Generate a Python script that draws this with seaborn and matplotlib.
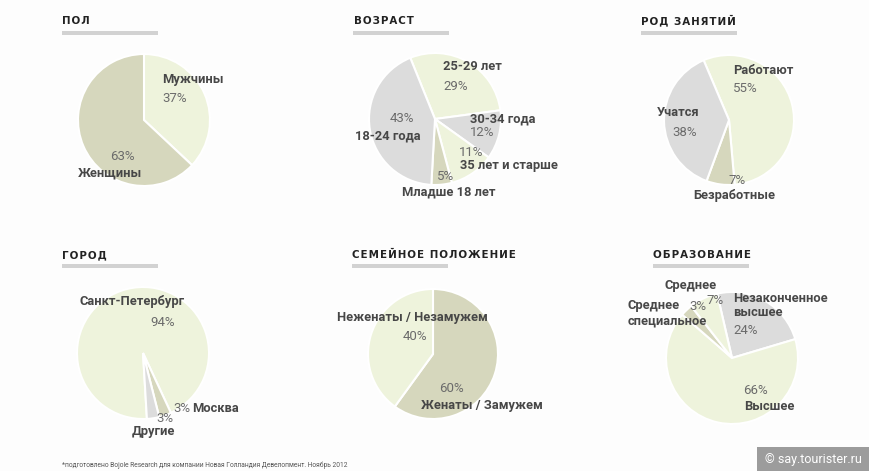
import numpy as np
import pandas as pd
import matplotlib.pyplot as plt
import seaborn as sns

# data
pol_labels = ['Мужчины', 'Женщины']
pol_values = [37, 63]

age_labels = ['25-29 лет', '30-34 года', '35 лет и старше', 'Младше 18 лет', '18-24 года']
age_values = [29, 12, 11, 5, 43]

occ_labels = ['Работают', 'Безработные', 'Учатся']
occ_values = [55, 7, 38]

city_labels = ['Санкт-Петербург', 'Москва', 'Другие']
city_values = [94, 3, 3]

fam_labels = ['Женаты / Замужем', 'Неженаты / Незамужем']
fam_values = [60, 40]

edu_labels = ['Незаконченное\nвысшее', 'Высшее', 'Среднее\nспециальное', 'Среднее']
edu_values = [24, 66, 3, 7]

titles = ['ПОЛ', 'ВОЗРАСТ', 'РОД ЗАНЯТИЙ', 'ГОРОД', 'СЕМЕЙНОЕ ПОЛОЖЕНИЕ', 'ОБРАЗОВАНИЕ']

sns.set_theme(style='white')
plt.rcParams['font.family'] = ['Roboto', 'DejaVu Sans']

GREEN = '#eef3dc'
GRAY = '#dcdcdc'
KHAKI = '#d6d7bd'
LAB = '#474747'
PCT = '#6b6b6b'

W, H = 870, 471
fig = plt.figure(figsize=(8.7, 4.71), dpi=100, facecolor='#fdfdfd')
ax = fig.add_axes([0, 0, 1, 1])
ax.set_facecolor('#fdfdfd')


def Y(y):
    return H - y


def pie(values, colors, cx, cy, r, start, explode=None):
    # start = clockwise degrees from 12 o'clock
    ax.pie(values, colors=colors, center=(cx, Y(cy)), radius=r,
           startangle=90 - start, counterclock=False, explode=explode,
           wedgeprops=dict(edgecolor='white', linewidth=1.5))


def lab(x, y, s, step=15):
    # one text per line so short lines keep tight boxes
    for i, line in enumerate(s.split('\n')):
        ax.text(x, Y(y + i * step), line, ha='left', va='center', fontsize=9.3,
                color=LAB, fontweight='bold')


def pct(x, y, v):
    ax.text(x, Y(y), f'{v}%', ha='left', va='center', fontsize=9.5,
            color=PCT)


# titles and bars
title_pos = [(62, 24), (354, 24), (641, 24), (62, 258), (352, 258), (653, 258)]
bar_pos = [(62, 33), (353, 33), (641, 33), (62, 266), (352, 266), (653, 266)]
for t, (tx, ty), (bx, by) in zip(titles, title_pos, bar_pos):
    ax.text(tx, Y(ty), '\u200a'.join(t), ha='left', va='baseline',
            fontsize=7.4, fontweight='bold', color='#222222',
            family=['DejaVu Sans'])
    ax.add_patch(plt.Rectangle((bx, Y(by) - 2), 96, 4, color='#d2d2d2', lw=0))

# ПОЛ
pie(pol_values, [GREEN, KHAKI], 144, 120, 66, 0)
lab(162, 79, pol_labels[0]); pct(162, 99, pol_values[0])
pct(110, 157, pol_values[1]); lab(78, 173, pol_labels[1])

# ВОЗРАСТ
pie(age_values, [GREEN, GRAY, GREEN, KHAKI, GRAY], 435, 119, 66, -22)
lab(443, 67, age_labels[0]); pct(443, 87, age_values[0])
lab(470, 119, age_labels[1]); pct(470, 133, age_values[1])
pct(459, 152, age_values[2]); lab(460, 165, age_labels[2])
pct(437, 177, age_values[3]); lab(402, 192, age_labels[3])
pct(390, 118, age_values[4]); lab(355, 136, age_labels[4])

# РОД ЗАНЯТИЙ
pie(occ_values, [GREEN, KHAKI, GRAY], 729, 120, 65, -23)
lab(733, 70, occ_labels[0]); pct(733, 89, occ_values[0])
pct(728, 180, occ_values[1]); lab(693, 195, occ_labels[1])
lab(657, 112, occ_labels[2]); pct(672, 133, occ_values[2])

# ГОРОД
pie(city_values, [GREEN, KHAKI, GRAY], 143, 353, 66, 155 - 3.6 * 94,
    explode=[0, 0.05, 0.05])
lab(80, 302, city_labels[0]); pct(150, 323, city_values[0])
pct(173, 409, city_values[1]); lab(192, 409, city_labels[1])
pct(156, 418, city_values[2]); lab(132, 431, city_labels[2])

# СЕМЕЙНОЕ ПОЛОЖЕНИЕ
pie(fam_values, [KHAKI, GREEN], 433, 354, 65, 0)
pct(439, 389, fam_values[0]); lab(421, 405, fam_labels[0])
lab(337, 317, fam_labels[1]); pct(403, 337, fam_values[1])

# ОБРАЗОВАНИЕ
pie(edu_values, [GRAY, GREEN, KHAKI, GREEN], 732, 358, 66, -13,
    explode=[0.03, 0, 0.07, 0.07])
lab(733, 298, edu_labels[0]); pct(733, 330, edu_values[0])
pct(743, 390, edu_values[1]); lab(744, 406, edu_labels[1])
lab(628, 306, edu_labels[2]); pct(689, 306, edu_values[2])
lab(665, 285, edu_labels[3]); pct(706, 300, edu_values[3])

# footnote and watermark
ax.text(62, Y(465), '*подготовлено Bojole Research для компании Новая Голландия Девелопмент. Ноябрь 2012',
        ha='left', va='center', fontsize=4.8, color='#555555')
ax.add_patch(plt.Rectangle((757, 0), 113, 24, color='#9c9c9c', lw=0))
ax.text(813, Y(459), '© say.tourister.ru', ha='center', va='center',
        fontsize=9, color='white')

ax.set_xlim(0, W)
ax.set_ylim(0, H)
ax.set_aspect('auto')
ax.axis('off')

fig.savefig('out.png', dpi=100, facecolor=fig.get_facecolor())
